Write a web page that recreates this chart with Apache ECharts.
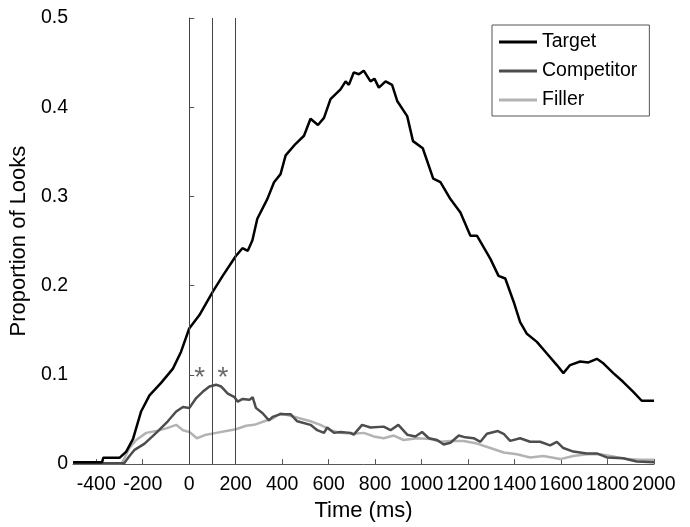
<!DOCTYPE html>
<html>
<head>
<meta charset="utf-8">
<script src="https://cdn.jsdelivr.net/npm/echarts@6/dist/echarts.min.js"></script>
<style>
html,body{margin:0;padding:0;background:#fff;}
#chart{width:690px;height:527px;}
</style>
</head>
<body>
<div id="chart"></div>
<script>
// ---- data ----
var seriesNames = ['Target', 'Competitor', 'Filler'];

var targetTime = [-500,-375,-370,-300,-271,-242,-207,-171,-121,-70,-35,0,44,101,144,200,229,252,272,293,336,365,393,415,458,494,522,554,580,608,651,673,687,708,730,751,780,797,816,845,873,895,938,963,1005,1050,1081,1124,1167,1210,1238,1296,1331,1360,1396,1424,1453,1496,1539,1582,1610,1639,1682,1718,1754,1782,1825,1868,1911,1947,2000];
var targetVals = [0.002,0.002,0.007,0.007,0.014,0.028,0.059,0.077,0.091,0.107,0.126,0.152,0.167,0.193,0.211,0.233,0.242,0.239,0.251,0.275,0.297,0.316,0.325,0.346,0.359,0.368,0.387,0.380,0.388,0.409,0.420,0.429,0.425,0.439,0.437,0.441,0.429,0.432,0.422,0.429,0.425,0.407,0.390,0.362,0.354,0.320,0.316,0.297,0.282,0.256,0.256,0.230,0.211,0.208,0.182,0.159,0.146,0.137,0.124,0.111,0.102,0.111,0.115,0.114,0.118,0.113,0.102,0.092,0.081,0.071,0.071];

var competitorTime = [-500,-280,-257,-235,-192,-142,-92,-56,-27,1,30,58,87,116,137,166,195,209,230,259,273,287,316,343,359,393,436,465,522,551,580,594,623,651,694,708,744,780,837,866,900,938,973,1002,1031,1067,1095,1124,1160,1188,1224,1253,1281,1328,1353,1381,1424,1467,1510,1553,1582,1610,1653,1711,1754,1797,1868,1926,2000];
var competitorVals = [0.001,0.001,0.009,0.016,0.023,0.035,0.048,0.059,0.064,0.063,0.074,0.081,0.087,0.089,0.087,0.079,0.075,0.070,0.073,0.072,0.075,0.063,0.057,0.049,0.053,0.056,0.056,0.048,0.044,0.038,0.035,0.041,0.035,0.036,0.035,0.033,0.044,0.041,0.042,0.038,0.044,0.033,0.031,0.036,0.029,0.027,0.022,0.024,0.032,0.030,0.029,0.025,0.034,0.037,0.034,0.026,0.029,0.025,0.025,0.021,0.025,0.018,0.014,0.012,0.012,0.0075,0.0065,0.003,0.002];

var fillerTime = [-500,-290,-257,-228,-185,-142,-99,-56,-27,1,33,73,116,159,201,245,280,323,359,393,451,522,565,608,651,708,751,794,837,880,923,981,1038,1081,1124,1181,1238,1296,1353,1410,1467,1524,1596,1653,1711,1768,1825,1883,1940,2000];
var fillerVals = [0.001,0.001,0.018,0.027,0.035,0.037,0.040,0.044,0.038,0.036,0.029,0.033,0.035,0.037,0.039,0.043,0.044,0.048,0.051,0.057,0.053,0.048,0.044,0.038,0.035,0.034,0.035,0.031,0.029,0.032,0.027,0.029,0.028,0.025,0.026,0.026,0.023,0.018,0.013,0.011,0.0075,0.009,0.0056,0.009,0.011,0.011,0.0086,0.0056,0.0048,0.0048];

var xTicks = [-400,-200,0,200,400,600,800,1000,1200,1400,1600,1800,2000];
var yTicks = [0,0.1,0.2,0.3,0.4,0.5];
var markerTimes = [0,100,200];
var starTimes = [45,145];
var starLevel = 0.105;

// ---- build ----
function pairs(t, v){ var out=[]; for (var i=0;i<t.length;i++) out.push([t[i], v[i]]); return out; }

var FONT = 'Liberation Sans, Arial, sans-serif';
var chart = echarts.init(document.getElementById('chart'), null, {renderer:'canvas'});
chart.setOption({
  animation: false,
  backgroundColor: '#fff',
  grid: {left: 72, right: 36, top: 18, bottom: 61, containLabel: false},
  legend: {
    data: seriesNames,
    orient: 'vertical',
    left: 492, top: 25,
    padding: [7, 12, 6, 7],
    itemGap: 9,
    itemWidth: 38,
    itemHeight: 3,
    icon: 'rect',
    borderColor: '#555',
    borderWidth: 1,
    backgroundColor: '#fff',
    textStyle: {fontFamily: FONT, fontSize: 19.5, color: '#000', lineHeight: 20, padding: [0,0,0,0]}
  },
  xAxis: {
    type: 'value', min: -500, max: 2000,
    name: 'Time (ms)', nameLocation: 'middle', nameGap: 28,
    nameTextStyle: {fontFamily: FONT, fontSize: 22, color: '#000'},
    axisLine: {show: true, onZero: false, lineStyle: {color: '#555', width: 1}},
    axisTick: {show: true, inside: true, length: 5, customValues: xTicks, lineStyle: {color: '#555'}},
    axisLabel: {customValues: xTicks, showMaxLabel: true, showMinLabel: true, hideOverlap: false,
      margin: 11, fontFamily: FONT, fontSize: 19.5, color: '#000',
      formatter: function(v){ return String(v); }},
    splitLine: {show: false}
  },
  yAxis: {
    type: 'value', min: 0, max: 0.5, interval: 0.1,
    name: 'Proportion of Looks', nameLocation: 'middle', nameGap: 34,
    nameTextStyle: {fontFamily: FONT, fontSize: 22, color: '#000'},
    axisLine: {show: true, lineStyle: {color: '#555', width: 1}},
    axisTick: {show: true, inside: true, length: 5, lineStyle: {color: '#555'}},
    axisLabel: {margin: 5, fontFamily: FONT, fontSize: 19.5, color: '#000',
      formatter: function(v){ return String(Math.round(v*10)/10); }},
    splitLine: {show: false}
  },
  series: [
    {name: 'Target', type: 'line', data: pairs(targetTime, targetVals), showSymbol: false, symbol: 'none',
     lineStyle: {color: '#000', width: 2.5}, itemStyle: {color: '#000'}, z: 4,
     markLine: {silent: true, symbol: ['none','none'], label: {show: false},
       lineStyle: {color: '#444', width: 1, type: 'solid'},
       data: markerTimes.map(function(t){ return {xAxis: t}; })}},
    {name: 'Competitor', type: 'line', data: pairs(competitorTime, competitorVals), showSymbol: false, symbol: 'none',
     lineStyle: {color: '#4d4d4d', width: 2.5}, itemStyle: {color: '#4d4d4d'}, z: 3},
    {name: 'Filler', type: 'line', data: pairs(fillerTime, fillerVals), showSymbol: false, symbol: 'none',
     lineStyle: {color: '#b3b3b3', width: 2.5}, itemStyle: {color: '#b3b3b3'}, z: 2},
    {name: 'stars', type: 'scatter', data: starTimes.map(function(t){ return [t, starLevel]; }),
     symbolSize: 0, silent: true,
     label: {show: true, position: 'inside', formatter: '*', offset: [0, 8],
       fontFamily: FONT, fontSize: 28, color: '#444'}}
  ]
});
</script>
</body>
</html>
